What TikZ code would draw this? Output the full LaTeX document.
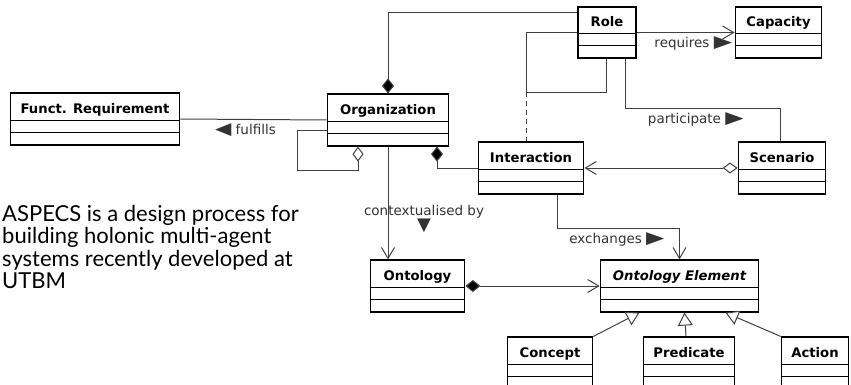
\documentclass[tikz,border=0pt]{standalone}
\usepackage{fontspec}
\setmainfont{DejaVu Sans}
\newfontfamily\notefont{Lato}
\usetikzlibrary{positioning, calc, arrows.meta, shapes.multipart}

\newcommand{\rtri}{\scalebox{1.4}[1]{\fontsize{17}{17}\selectfont ▶}}
\newcommand{\ltri}{\scalebox{1.25}[1]{\fontsize{17}{17}\selectfont ◀}}
\newcommand{\dtri}{{\fontsize{18}{18}\selectfont ▼}}

\begin{document}
\begin{tikzpicture}[
    x=1pt, y=-1pt,
    barb/.tip={Straight Barb[length=11pt, width=13pt]},
    comp/.tip={Diamond[fill=black, length=15pt, width=12pt]},
    aggr/.tip={Diamond[fill=white, length=15pt, width=11pt]},
    gen/.tip={Triangle[fill=white, length=13pt, width=15pt]},
    umlclass/.style={rectangle split, rectangle split parts=3, draw, line width=1.8pt,
        rectangle split draw splits=false,
        rectangle split empty part height=6.5pt, rectangle split empty part depth=0pt,
        inner xsep=4pt, inner ysep=2pt, text height=17pt, text depth=4pt,
        font=\bfseries\fontsize{13.2}{14}\selectfont,
        append after command={\pgfextra{\let\umlnode\tikzlastnode}
            (\umlnode.text split west) edge[divider] (\umlnode.text split east)
            (\umlnode.two split west) edge[divider] (\umlnode.two split east)}},
    divider/.style={draw=black, line width=1pt},
    link/.style={draw=black!75, line width=1pt},
    lbl/.style={font=\fontsize{13.5}{15}\selectfont, text=black!80, inner xsep=2pt, inner ysep=4pt},
    note/.style={anchor=north west, inner sep=0pt, align=left, font=\notefont\fontsize{22}{22.5}\selectfont}
]
\useasboundingbox (0,0) rectangle (851,385);

% classes
\node[umlclass, minimum width=58pt]  (role)         at (607,32.5) {Role};
\node[umlclass, minimum width=86pt]  (capacity)     at (778.5,32.5) {Capacity};
\node[umlclass, minimum width=169pt] (funcreq)      at (95,119) {Funct. Requirement};
\node[umlclass, minimum width=121pt] (organization) at (388,120) {Organization};
\node[umlclass, minimum width=105pt] (interaction)  at (531,168) {Interaction};
\node[umlclass, minimum width=87pt]  (scenario)     at (782,168) {Scenario};
\node[umlclass, minimum width=94pt]  (ontology)     at (417.5,286) {Ontology};
\node[umlclass, minimum width=158pt, font=\bfseries\itshape\fontsize{13.2}{14}\selectfont] (ontoelem) at (679.5,286) {Ontology Element};
\node[umlclass, minimum width=85pt]  (concept)      at (550,363) {Concept};
\node[umlclass, minimum width=91pt]  (predicate)    at (689,363) {Predicate};
\node[umlclass, minimum width=67pt]  (action)       at (815,363) {Action};

% note
\node[note] (aspecs) at (2,205) {ASPECS is a design process for\\building holonic multi-agent\\systems recently developed at\\UTBM};

% Role
\draw[link, -comp] ($(role.north west)+(0,7)$) -| (organization.north);
\draw[link] (role.west) -- ++(-51,0) -- ++(0,60) coordinate (roleloop) -| ($(role.south)+(-1,0)$);
\draw[link, dash pattern=on 5pt off 4pt] (roleloop) -- (roleloop |- interaction.north);
\draw[link, -barb] (role.east) -- node[lbl, pos=1, anchor=north east] {requires \rtri} (capacity.west);
\draw[link] ($(role.south east)+(-11,0)$) |- node[lbl, pos=0.89, anchor=north east] {participate \rtri} ($(scenario.north)+(-2,-33)$) -- ($(scenario.north)+(-2,0)$);

% Organization
\draw[link] (funcreq.east) -- node[lbl, pos=0.22, anchor=north west] {\ltri\ fulfills} (organization.west);
\draw[link, -aggr] ($(organization.west)+(0,11)$) -- ++(-29,0) |- ($(organization.south)+(-30,24)$) -- ($(organization.south)+(-30,0)$);
\draw[link, comp-] ($(organization.south)+(49,0)$) |- (interaction.west);
\draw[link, -barb] (organization.south) -- node[lbl, pos=0.64, xshift=36pt, align=center] {contextualised by\\\dtri} (organization.south |- ontology.north);

% Interaction
\draw[link, aggr-barb] (scenario.west) -- (interaction.east);
\draw[link, -barb] ($(interaction.south)+(26,0)$) |- node[lbl, pos=0.949, anchor=north east] {exchanges \rtri} ($(ontoelem.north)+(0,-31)$) -- (ontoelem.north);

% Ontology
\draw[link, comp-barb] (ontology.east) -- (ontoelem.west);
\draw[link, -gen] (concept.north east) -- ($(ontoelem.south)+(-40,0)$);
\draw[link, -gen] ($(predicate.north)+(-3,0)$) -- ($(ontoelem.south)+(5,0)$);
\draw[link, -gen] (action.north west) -- ($(ontoelem.south)+(46,0)$);

\end{tikzpicture}
\end{document}
